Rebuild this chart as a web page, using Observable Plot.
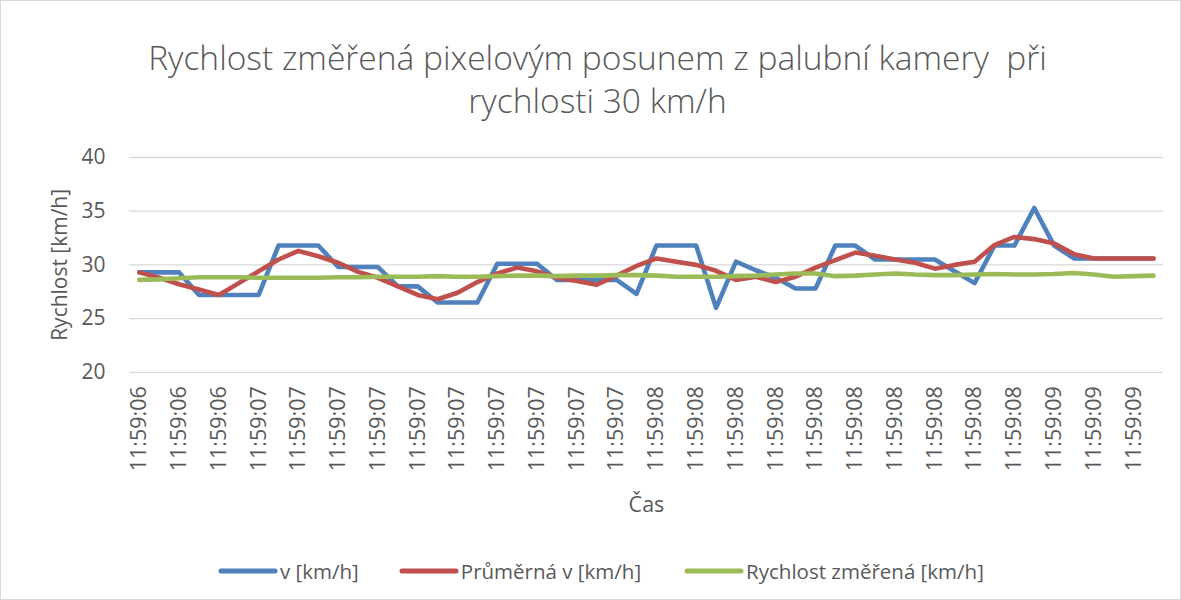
<!DOCTYPE html>
<html>
<head>
<meta charset="utf-8">
<script src="https://cdn.jsdelivr.net/npm/d3@7"></script>
<script src="https://cdn.jsdelivr.net/npm/@observablehq/plot@0.6"></script>
<style>
  body { margin: 0; background: #fff; font-family: "Open Sans", sans-serif; }
  #chart { position: relative; width: 1181px; height: 600px; box-sizing: border-box; border: 1px solid #d9d9d9; overflow: hidden; }
  #title { position: absolute; top: 35px; left: 7px; width: 100%; text-align: center; font-size: 33.5px; font-weight: 300; line-height: 43px; color: #595959; white-space: pre; }
  #plot { position: absolute; top: 129px; left: -1px; }
  #legend { position: absolute; top: 556px; left: 217px; display: flex; align-items: center; font-size: 20.5px; color: #595959; white-space: pre; }
  #legend .item { display: flex; align-items: center; }
  #legend svg { display: block; margin-right: 2px; }
</style>
</head>
<body>
<div id="chart">
  <div id="title"></div>
  <div id="plot"></div>
  <div id="legend"></div>
</div>
<script>
const titleLines = ["Rychlost změřená pixelovým posunem z palubní kamery  při", "rychlosti 30 km/h"];
const xTitle = "Čas";
const yTitle = "Rychlost [km/h]";
const seriesNames = ["v [km/h]", "Průměrná v [km/h]", "Rychlost změřená [km/h]"];
const seriesColors = ["#4f81bd", "#c0504d", "#9bbb59"];

const times = [
  "11:59:06","11:59:06","11:59:06","11:59:06","11:59:06","11:59:06",
  "11:59:07","11:59:07","11:59:07","11:59:07","11:59:07","11:59:07","11:59:07","11:59:07","11:59:07","11:59:07",
  "11:59:07","11:59:07","11:59:07","11:59:07","11:59:07","11:59:07","11:59:07","11:59:07","11:59:07","11:59:07",
  "11:59:08","11:59:08","11:59:08","11:59:08","11:59:08","11:59:08","11:59:08","11:59:08","11:59:08","11:59:08",
  "11:59:08","11:59:08","11:59:08","11:59:08","11:59:08","11:59:08","11:59:08","11:59:08","11:59:08","11:59:08",
  "11:59:09","11:59:09","11:59:09","11:59:09","11:59:09","11:59:09"
];
const vKmh = [
  29.3, 29.3, 29.3, 27.2, 27.2, 27.2, 27.2, 31.8, 31.8, 31.8,
  29.8, 29.8, 29.8, 28.0, 28.0, 26.5, 26.5, 26.5, 30.1, 30.1,
  30.1, 28.6, 28.6, 28.6, 28.6, 27.3, 31.8, 31.8, 31.8, 26.0,
  30.3, 29.5, 28.8, 27.8, 27.8, 31.8, 31.8, 30.5, 30.5, 30.5,
  30.5, 29.4, 28.3, 31.8, 31.8, 35.3, 31.8, 30.6, 30.6, 30.6,
  30.6, 30.6
];
const avgV = [
  29.3, 28.8, 28.2, 27.7, 27.2, 28.3, 29.4, 30.5, 31.3, 30.8,
  30.2, 29.35, 28.8, 28.0, 27.2, 26.8, 27.4, 28.4, 29.2, 29.75,
  29.4, 28.8, 28.5, 28.15, 29.0, 29.9, 30.6, 30.3, 30.0, 29.45,
  28.6, 28.9, 28.4, 28.9, 29.75, 30.45, 31.15, 30.85, 30.5, 30.2,
  29.65, 30.0, 30.3, 31.85, 32.6, 32.4, 32.0, 31.0, 30.6, 30.6,
  30.6, 30.6
];
const measured = [
  28.6, 28.65, 28.75, 28.85, 28.85, 28.85, 28.8, 28.8, 28.8, 28.8,
  28.85, 28.85, 28.9, 28.9, 28.9, 28.95, 28.9, 28.9, 28.95, 29.0,
  29.0, 28.95, 29.0, 29.0, 29.05, 29.05, 29.0, 28.9, 28.9, 28.9,
  28.95, 29.0, 29.1, 29.2, 29.2, 28.95, 29.0, 29.1, 29.2, 29.1,
  29.05, 29.05, 29.1, 29.15, 29.1, 29.1, 29.15, 29.25, 29.1, 28.9,
  28.95, 29.0
];
const yTicks = [20, 25, 30, 35, 40];

document.getElementById("title").textContent = titleLines.join("\n");

const seriesValues = [vKmh, avgV, measured];
const rows = [];
seriesValues.forEach((vals, s) => vals.forEach((v, i) => rows.push({i, v, s: seriesNames[s]})));
const idx = times.map((_, i) => i);
const labelIdx = idx.filter(i => i % 2 === 0);

const plot = Plot.plot({
  width: 1181,
  height: 400,
  marginLeft: 129,
  marginRight: 17,
  marginTop: 27,
  marginBottom: 158,
  style: { fontFamily: "'Open Sans', sans-serif", color: "#595959", background: "transparent" },
  x: { type: "point", domain: idx, padding: 0.5 },
  y: { domain: [20, 40] },
  color: { domain: seriesNames, range: seriesColors },
  marks: [
    Plot.gridY(yTicks, { stroke: "#d9d9d9", strokeOpacity: 1, strokeWidth: 1.3 }),
    Plot.axisY(yTicks, { tickSize: 0, tickPadding: 24, fontSize: 21, label: yTitle, labelAnchor: "center", labelArrow: "none", labelOffset: 77 }),
    Plot.axisX(labelIdx, { tickSize: 0, tickPadding: 14, tickRotate: -90, fontSize: 21.5, tickFormat: i => times[i], label: xTitle, labelAnchor: "center", labelArrow: "none", labelOffset: 140 }),
    Plot.lineY(rows, { x: "i", y: "v", z: "s", stroke: "s", strokeWidth: 4.6, strokeLinejoin: "round", strokeLinecap: "round" })
  ]
});
document.getElementById("plot").appendChild(plot);

const legend = document.getElementById("legend");
const gaps = [40, 43, 0];
seriesNames.forEach((name, k) => {
  const item = document.createElement("div");
  item.className = "item";
  item.style.marginRight = gaps[k] + "px";
  item.innerHTML = `<svg width="60" height="10"><line x1="3" y1="5" x2="57" y2="5" stroke="${seriesColors[k]}" stroke-width="5" stroke-linecap="round"/></svg><span>${name}</span>`;
  legend.appendChild(item);
});
</script>
</body>
</html>
